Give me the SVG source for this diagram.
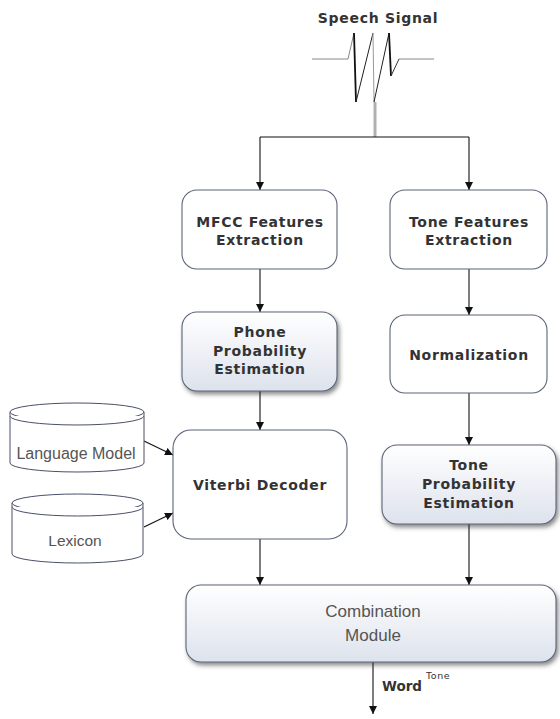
<svg xmlns="http://www.w3.org/2000/svg" width="560" height="719" viewBox="0 0 560 719">
<defs>
<linearGradient id="g" x1="0" y1="0" x2="0" y2="1">
<stop offset="0" stop-color="#ffffff"/>
<stop offset="1" stop-color="#dde2ec"/>
</linearGradient>
<filter id="sh" x="-10%" y="-10%" width="130%" height="140%">
<feDropShadow dx="2" dy="3" stdDeviation="2" flood-color="#333" flood-opacity="0.55"/>
</filter>
<marker id="ah" viewBox="0 0 10 10" refX="10" refY="5" markerWidth="8" markerHeight="8" markerUnits="userSpaceOnUse" orient="auto">
<path d="M0,0 L10,5 L0,10 z" fill="#111"/>
</marker>
</defs>
<style>
.box{fill:#fff;stroke:#5c6478;stroke-width:1.1}
.gbox{fill:url(#g);stroke:#5c6478;stroke-width:1.1;filter:url(#sh)}
.bt{font-family:"DejaVu Sans",Verdana,sans-serif;font-weight:bold;font-size:14px;letter-spacing:0.7px;fill:#333;text-anchor:middle}
.rt{font-family:"Liberation Sans",Arial,sans-serif;fill:#555;text-anchor:middle}
.cyl{fill:#fff;stroke:#4a5068;stroke-width:1}
.con{fill:none;stroke:#111;stroke-width:1.1}
</style>
<rect width="560" height="719" fill="#fff"/>

<g id="speech-signal">
<text class="bt" x="378" y="23">Speech Signal</text>
<g fill="none" stroke-linejoin="round">
<path d="M312,59 L348,59 L354,33" stroke="#888" stroke-width="1"/>
<path d="M354,33 L356,102" stroke="#111" stroke-width="1.8"/>
<path d="M356,102 L373,33" stroke="#222" stroke-width="1"/>
<path d="M373,33 L374,102" stroke="#999" stroke-width="1"/>
<path d="M374,102 L389,33" stroke="#222" stroke-width="1"/>
<path d="M389,33 L391,76" stroke="#111" stroke-width="1.8"/>
<path d="M391,76 L399,59" stroke="#333" stroke-width="1"/>
<path d="M399,59 L434,59" stroke="#888" stroke-width="1"/>
</g>
</g>

<g id="connectors">
<line x1="375" y1="102" x2="375" y2="137" stroke="#b0b0b0" stroke-width="3"/>
<path class="con" d="M260,137 L469,137"/>
<path class="con" d="M260,137 L260,190" marker-end="url(#ah)"/>
<path class="con" d="M469,137 L469,190" marker-end="url(#ah)"/>
<path class="con" d="M260,269 L260,312" marker-end="url(#ah)"/>
<path class="con" d="M469,269 L469,315" marker-end="url(#ah)"/>
<path class="con" d="M260,391 L260,430" marker-end="url(#ah)"/>
<path class="con" d="M469,393 L469,445" marker-end="url(#ah)"/>
<path class="con" d="M260,539 L260,585" marker-end="url(#ah)"/>
<path class="con" d="M469,524 L469,585" marker-end="url(#ah)"/>
<path class="con" d="M144,441 L173,455" stroke="#333" marker-end="url(#ah)"/>
<path class="con" d="M144,527 L173,513" stroke="#333" marker-end="url(#ah)"/>
<path class="con" d="M373,662 L373,714" stroke="#333" marker-end="url(#ah)"/>
<text x="382" y="691" font-family="DejaVu Sans,Verdana,sans-serif" font-weight="bold" font-size="13.5" fill="#333">Word</text>
<text x="426" y="679" font-family="DejaVu Sans,Verdana,sans-serif" font-size="9.5" letter-spacing="0.6" fill="#333">Tone</text>
</g>

<g id="mfcc">
<rect class="box" x="182" y="190" width="155" height="79" rx="15"/>
<text class="bt" x="260" y="227">MFCC Features</text>
<text class="bt" x="260" y="245">Extraction</text>
</g>

<g id="tone-features">
<rect class="box" x="390" y="190" width="157" height="79" rx="15"/>
<text class="bt" x="469" y="227">Tone Features</text>
<text class="bt" x="469" y="245">Extraction</text>
</g>

<g id="phone-prob">
<rect class="gbox" x="182" y="312" width="155" height="79" rx="15"/>
<text class="bt" x="260" y="337">Phone</text>
<text class="bt" x="260" y="356">Probability</text>
<text class="bt" x="260" y="374">Estimation</text>
</g>

<g id="normalization">
<rect class="box" x="390" y="315" width="157" height="78" rx="15"/>
<text class="bt" x="469" y="360">Normalization</text>
</g>

<g id="language-model">
<path class="cyl" d="M10,412 L10,463 A67,9 0 0 0 144,463 L144,412"/>
<ellipse class="cyl" cx="77" cy="412" rx="67" ry="9"/>
<path class="cyl" d="M10,416 A67,9 0 0 0 144,416" fill="none"/>
<text class="rt" x="76" y="459" font-size="16">Language Model</text>
</g>

<g id="lexicon">
<path class="cyl" d="M12,503 L12,554 A65.5,9 0 0 0 143,554 L143,503"/>
<ellipse class="cyl" cx="77.5" cy="503" rx="65.5" ry="9"/>
<path class="cyl" d="M12,507 A65.5,9 0 0 0 143,507" fill="none"/>
<text class="rt" x="75" y="546" font-size="15.5">Lexicon</text>
</g>

<g id="viterbi">
<rect class="box" x="173" y="430" width="174" height="109" rx="18"/>
<text class="bt" x="260" y="490">Viterbi Decoder</text>
</g>

<g id="tone-prob">
<rect class="gbox" x="382" y="445" width="174" height="79" rx="15"/>
<text class="bt" x="469" y="470">Tone</text>
<text class="bt" x="469" y="489">Probability</text>
<text class="bt" x="469" y="508">Estimation</text>
</g>

<g id="combination">
<rect class="gbox" x="186" y="585" width="370" height="77" rx="15"/>
<text class="rt" x="373" y="617" font-size="17">Combination</text>
<text class="rt" x="373" y="641" font-size="17">Module</text>
</g>
</svg>
